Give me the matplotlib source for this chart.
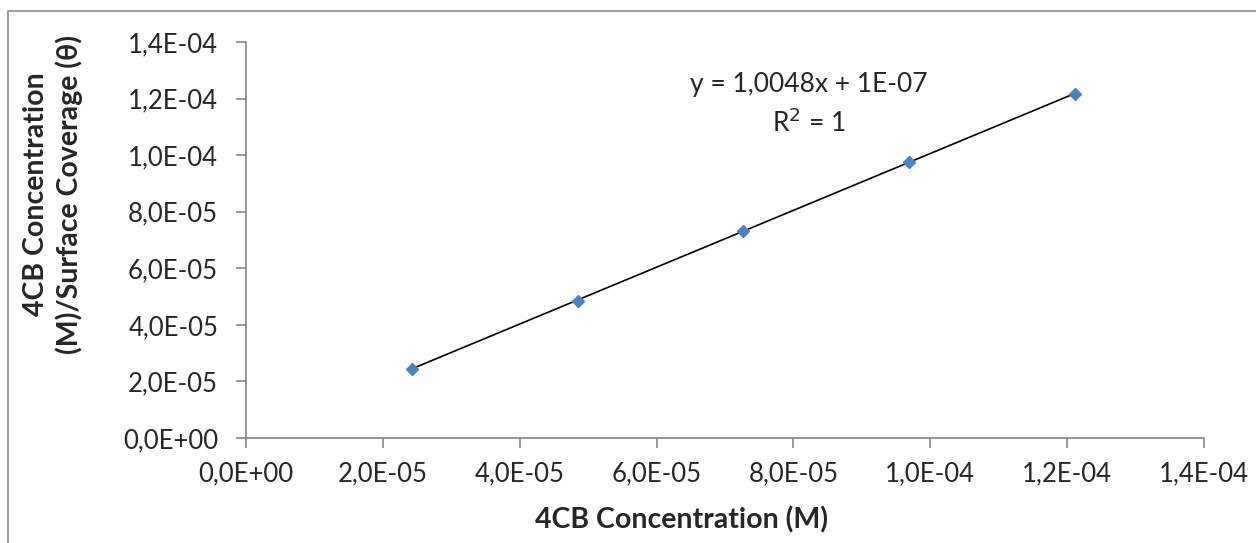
import matplotlib
matplotlib.use("Agg")
import matplotlib.pyplot as plt
import numpy as np
from matplotlib.patches import Rectangle
import matplotlib.ticker as mticker

# data
conc = [2.42e-5, 4.85e-5, 7.27e-5, 9.69e-5, 12.11e-5]
ratio = [2.44e-5, 4.86e-5, 7.33e-5, 9.75e-5, 12.17e-5]
slope = 1.0048
intercept = 1e-07
ticks = [0, 2e-5, 4e-5, 6e-5, 8e-5, 1e-4, 1.2e-4, 1.4e-4]

plt.rcParams['font.family'] = ['Lato', 'DejaVu Sans']

grey = '#868686'
txt = '#262626'

fig = plt.figure(figsize=(12.56, 5.43), dpi=100)
ax = fig.add_axes([246/1256, 1-438/543, (1204-246)/1256, (438-42)/543])

# chart area border
fig.patches.append(Rectangle((8/1256, -0.05), 1.1, 1-11/543+0.05,
                             transform=fig.transFigure, fill=False,
                             edgecolor='#8c8c8c', linewidth=1.2))

ax.plot(conc, ratio, linestyle='none', marker='D', markersize=6,
        color='#4F81BD', zorder=3)
xt = np.array([conc[0], conc[-1]])
ax.plot(xt, slope * xt + intercept, color='black', linewidth=1.2, zorder=2)

ax.set_xlim(0, 1.4e-4)
ax.set_ylim(0, 1.4e-4)
ax.set_xticks(ticks)
ax.set_yticks(ticks)

def fmt(v, pos):
    s = f"{v:.1E}"
    return s.replace('.', ',')

ax.xaxis.set_major_formatter(mticker.FuncFormatter(fmt))
ax.yaxis.set_major_formatter(mticker.FuncFormatter(fmt))

for side in ['top', 'right']:
    ax.spines[side].set_visible(False)
for side in ['left', 'bottom']:
    ax.spines[side].set_color(grey)
    ax.spines[side].set_linewidth(1.2)

ax.tick_params(axis='both', direction='out', length=7, width=1.2, color=grey,
               labelsize=18.5, labelcolor=txt)
ax.tick_params(axis='x', pad=10)
ax.tick_params(axis='y', pad=13)

ax.set_xlabel("4CB Concentration (M)", fontsize=20.5, fontweight='bold', color=txt)
ax.xaxis.set_label_coords(0.455, -0.172)
ax.set_ylabel("4CB Concentration\n(M)/Surface Coverage (θ)", fontsize=20.5,
              fontweight='bold', color=txt, linespacing=1.3)
ax.yaxis.set_label_coords(-0.170, 0.615)

ax.text(0.587, 0.843, "y = 1,0048x + 1E-07\nR$^2$ = 1", transform=ax.transAxes,
        ha='center', va='center', fontsize=19, color=txt, linespacing=1.5)

fig.savefig("out.png", dpi=100)
